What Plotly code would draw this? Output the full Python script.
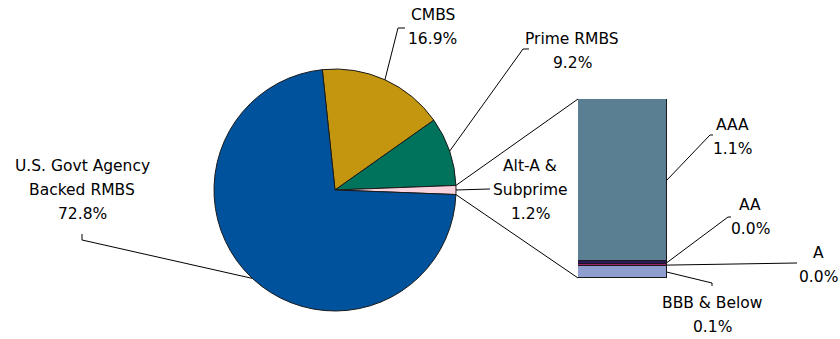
import math
import plotly.graph_objects as go

W, H = 840, 339

# Portfolio split (percent of total)
pie_labels = ["CMBS", "Prime RMBS", "Alt-A & Subprime", "U.S. Govt Agency Backed RMBS"]
pie_values = [16.9, 9.2, 1.2, 72.8]
pie_colors = ["#C4950F", "#00735C", "#F8D3DE", "#00529C"]

# Breakdown of Alt-A & Subprime by rating (bottom to top)
bar_labels = ["BBB & Below", "A", "AA", "AAA"]
bar_values = [0.08, 0.015, 0.02, 1.1]
bar_colors = ["#8E9FCF", "#A0206A", "#2E1760", "#5A7F93"]

# Label line text (percent is appended from the values)
pie_label_lines = [["CMBS"], ["Prime RMBS"], ["Alt-A &", "Subprime"], ["U.S. Govt Agency", "Backed RMBS"]]
bar_label_lines = [["BBB & Below"], ["A"], ["AA"], ["AAA"]]

FONT = dict(family="DejaVu Sans", size=15.5, color="#000000")
LINE_GAP = 24

# Layout geometry in pixels
CX, CY, R = 335, 190, 121
BAR_L, BAR_R, BAR_T, BAR_B = 578, 667, 99, 278


def px(x):
    return x / W


def py(y):
    return 1 - y / H


pie_total = sum(pie_values)
alt_idx = 2
# centre the Alt-A slice at 3 o'clock
rotation = 90 - (sum(pie_values[:alt_idx]) + pie_values[alt_idx] / 2) / pie_total * 360


def on_circle(angle_deg, r=R):
    a = math.radians(angle_deg)
    return CX + r * math.sin(a), CY - r * math.cos(a)


starts, mids, ends = [], [], []
cum = 0.0
for v in pie_values:
    a0 = rotation + cum / pie_total * 360
    cum += v
    a1 = rotation + cum / pie_total * 360
    starts.append(a0)
    ends.append(a1)
    mids.append((a0 + a1) / 2)

bar_total = sum(bar_values)


def bar_y(v):
    return BAR_B - v / bar_total * (BAR_B - BAR_T)


bar_mids = []
c = 0.0
for v in bar_values:
    bar_mids.append(bar_y(c + v / 2))
    c += v

fig = go.Figure()

fig.add_trace(go.Pie(
    labels=pie_labels,
    values=pie_values,
    sort=False,
    direction="clockwise",
    rotation=rotation,
    marker=dict(colors=pie_colors, line=dict(color="#1a1a1a", width=1)),
    textinfo="none",
    hoverinfo="label+percent",
    domain=dict(x=[px(CX - R), px(CX + R)], y=[py(CY + R), py(CY - R)]),
    showlegend=False,
))

for lab, v, col in zip(bar_labels, bar_values, bar_colors):
    fig.add_trace(go.Bar(
        x=[0], y=[v], name=lab, width=1,
        marker=dict(color=col, line=dict(color="#1a1a1a", width=1)),
        showlegend=False, hoverinfo="name+y",
    ))

shapes = []


def path(points):
    d = "M " + " L ".join(f"{px(x):.5f},{py(y):.5f}" for x, y in points)
    shapes.append(dict(type="path", path=d, xref="paper", yref="paper",
                       line=dict(color="#000000", width=1)))


# connectors from the Alt-A slice to the breakdown column
path([on_circle(starts[alt_idx]), (BAR_L, BAR_T)])
path([on_circle(ends[alt_idx]), (BAR_L, BAR_B)])

# pie leader lines: elbow and end points
pie_leaders = [
    [(398, 28), (405, 28)],
    [(523, 49), (529, 49)],
    [(490, 189)],
    [(82, 240), (82, 234)],
]
for i, pts in enumerate(pie_leaders):
    path([on_circle(mids[i])] + pts)

# bar leader lines
bar_leaders = [
    [(712, 283), (712, 286)],
    [(797, 263)],
    [(728, 217), (731, 217)],
    [(710, 135), (713, 135)],
]
for i, pts in enumerate(bar_leaders):
    path([(BAR_R, bar_mids[i])] + pts)

annotations = []


def label(lines, cx, cy_first):
    for k, t in enumerate(lines):
        annotations.append(dict(
            x=px(cx), y=py(cy_first + k * LINE_GAP), xref="paper", yref="paper",
            text=t, showarrow=False, font=FONT, xanchor="center", yanchor="middle",
        ))


pie_label_pos = [(433, 15), (572, 39), (530, 166), (82, 166)]
for lines, v, (x, y) in zip(pie_label_lines, pie_values, pie_label_pos):
    label(lines + [f"{v:.1f}%"], x, y)

bar_label_pos = [(712, 303), (818, 253), (750, 205), (732, 125)]
for lines, v, (x, y) in zip(bar_label_lines, bar_values, bar_label_pos):
    label(lines + [f"{v:.1f}%"], x, y)

fig.update_layout(
    width=W, height=H,
    margin=dict(l=0, r=0, t=0, b=0),
    paper_bgcolor="white", plot_bgcolor="rgba(0,0,0,0)",
    barmode="stack", bargap=0,
    xaxis=dict(domain=[px(BAR_L), px(BAR_R)], range=[-0.5, 0.5], visible=False, fixedrange=True),
    yaxis=dict(domain=[py(BAR_B), py(BAR_T)], range=[0, bar_total], visible=False, fixedrange=True),
    shapes=shapes,
    annotations=annotations,
)

fig.write_html("out.html")
